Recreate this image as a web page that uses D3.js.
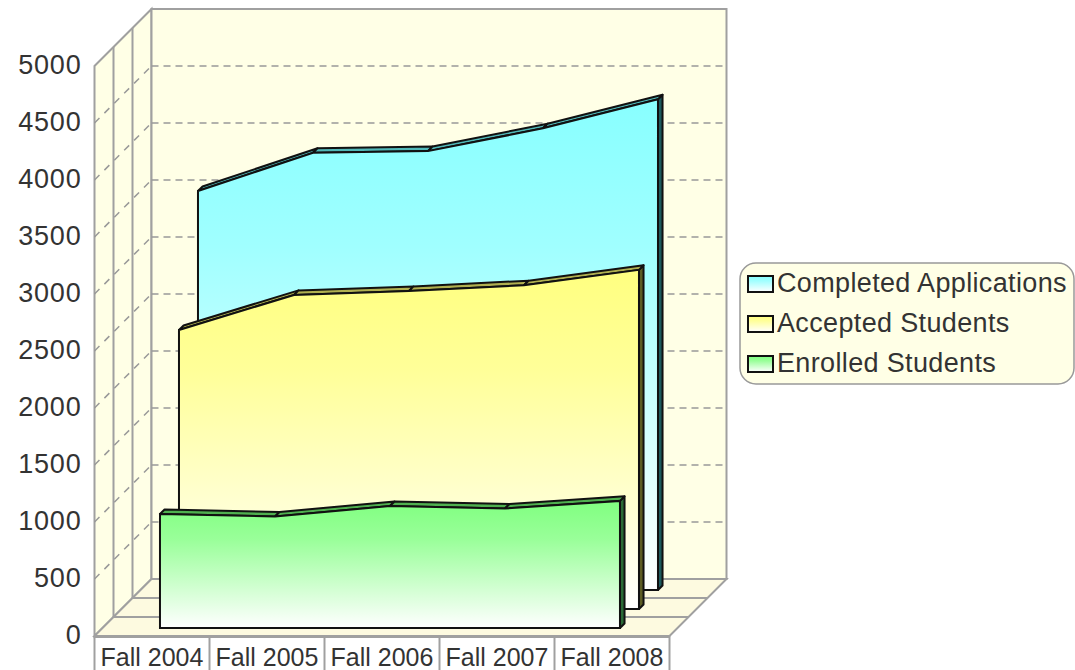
<!DOCTYPE html>
<html>
<head>
<meta charset="utf-8">
<script src="https://cdn.jsdelivr.net/npm/d3@7"></script>
<style>
	body { margin: 0; background: #fff; }
	text { font-family: "Liberation Sans", Arial, sans-serif; fill: #333; }
</style>
</head>
<body>
<script>
	var categories = ["Fall 2004", "Fall 2005", "Fall 2006", "Fall 2007", "Fall 2008"];
	var seriesNames = ["Enrolled Students", "Accepted Students", "Completed Applications"];
	var enrolled = [1000, 978, 1070, 1048, 1115];
	var accepted = [2447, 2755, 2790, 2840, 2975];
	var completed = [3500, 3835, 3850, 4050, 4305];
	var yTicks = [0, 500, 1000, 1500, 2000, 2500, 3000, 3500, 4000, 4500, 5000];

	var seriesValues = [enrolled, accepted, completed];
	var faceColors = ["#80ff80", "#ffff80", "#88ffff"];
	var topColors = ["#4fb04f", "#b0b050", "#50b8b8"];
	var sideColors = ["#2a6a36", "#5c5c24", "#1d5a5e"];

	var width = 1075, height = 670;
	// "top" is taken by window.top, so these carry a prefix
	var plotLeft = 94.5, plotRight = 669.5, plotBottom = 636, plotTop = 66;
	var depthX = 57, depthY = -57;

	var svg = d3.select("body").append("svg")
		.attr("width", width).attr("height", height)
		.style("display", "block");

	var y = d3.scaleLinear().domain([0, 5000]).range([plotBottom, plotTop]);
	var band = d3.scaleBand().domain(categories).range([plotLeft, plotRight]);
	var x = function(c) { return band(c) + band.bandwidth() / 2; };

	// depth runs 0 (front edge of the floor) to 1 (back wall)
	function px(xv, d) { return xv + depthX * d; }
	function py(yv, d) { return yv + depthY * d; }
	function poly(pts) { return d3.line()(pts) + "Z"; }

	var defs = svg.append("defs");
	faceColors.forEach(function(c, i) {
		var g = defs.append("linearGradient").attr("id", "grad" + i)
			.attr("x1", 0).attr("y1", 0).attr("x2", 0).attr("y2", 1);
		g.append("stop").attr("offset", "0%").attr("stop-color", c);
		g.append("stop").attr("offset", "30%").attr("stop-color", d3.interpolateRgb(c, "#ffffff")(0.2));
		g.append("stop").attr("offset", "100%").attr("stop-color", "#ffffff");
	});

	// walls and floor
	var wall = svg.append("g");
	wall.append("path")
		.attr("d", poly([[px(plotLeft, 0), y(5000)], [px(plotLeft, 1), py(y(5000), 1)], [px(plotLeft, 1), py(y(0), 1)], [px(plotLeft, 0), y(0)]]))
		.attr("fill", "#ffffe6").attr("stroke", "#a0a0a0").attr("stroke-width", 2);
	wall.append("path")
		.attr("d", poly([[px(plotLeft, 1), py(y(5000), 1)], [px(plotRight, 1), py(y(5000), 1)], [px(plotRight, 1), py(y(0), 1)], [px(plotLeft, 1), py(y(0), 1)]]))
		.attr("fill", "#ffffe6").attr("stroke", "#a0a0a0").attr("stroke-width", 2);
	wall.append("path")
		.attr("d", poly([[px(plotLeft, 0), y(0)], [px(plotRight, 0), y(0)], [px(plotRight, 1), py(y(0), 1)], [px(plotLeft, 1), py(y(0), 1)]]))
		.attr("fill", "#fdfae0").attr("stroke", "#a0a0a0").attr("stroke-width", 2);

	// slice dividers on the left wall and the floor
	[1 / 3, 2 / 3].forEach(function(d) {
		wall.append("path")
			.attr("d", d3.line()([[px(plotLeft, d), py(y(5000), d)], [px(plotLeft, d), py(y(0), d)], [px(plotRight, d), py(y(0), d)]]))
			.attr("fill", "none").attr("stroke", "#a0a0a0").attr("stroke-width", 2);
	});

	// grid lines, dashed
	var grid = yTicks.filter(function(t) { return t > 0 && t < 5000; });
	wall.selectAll("line.back").data(grid).join("line").attr("class", "back")
		.attr("x1", px(plotLeft, 1)).attr("x2", px(plotRight, 1))
		.attr("y1", function(d) { return py(y(d), 1); })
		.attr("y2", function(d) { return py(y(d), 1); })
		.attr("stroke", "#999").attr("stroke-width", 1.5).attr("stroke-dasharray", "7 5");
	wall.selectAll("line.side").data(grid).join("line").attr("class", "side")
		.attr("x1", px(plotLeft, 0)).attr("x2", px(plotLeft, 1))
		.attr("y1", function(d) { return y(d); })
		.attr("y2", function(d) { return py(y(d), 1); })
		.attr("stroke", "#999").attr("stroke-width", 1.5).attr("stroke-dasharray", "7 7");

	// series, back to front
	var thick = 0.08;
	var order = [2, 1, 0];
	order.forEach(function(s) {
		var d0 = (s + 0.42) / 3, d1 = d0 + thick;
		var vals = seriesValues[s];
		var g = svg.append("g");
		var last = categories[categories.length - 1];

		g.append("path")
			.attr("d", poly([[px(x(last), d0), py(y(vals[4]), d0)], [px(x(last), d1), py(y(vals[4]), d1)], [px(x(last), d1), py(y(0), d1)], [px(x(last), d0), py(y(0), d0)]]))
			.attr("fill", sideColors[s]).attr("stroke", "#111").attr("stroke-width", 2).attr("stroke-linejoin", "round");

		g.selectAll("path.top").data(d3.pairs(categories.map(function(c, i) { return [c, vals[i]]; }))).join("path")
			.attr("class", "top")
			.attr("d", function(p) {
				var a = p[0], b = p[1];
				return poly([[px(x(a[0]), d0), py(y(a[1]), d0)], [px(x(a[0]), d1), py(y(a[1]), d1)], [px(x(b[0]), d1), py(y(b[1]), d1)], [px(x(b[0]), d0), py(y(b[1]), d0)]]);
			})
			.attr("fill", topColors[s]).attr("stroke", "#111").attr("stroke-width", 2).attr("stroke-linejoin", "round");

		var area = d3.area()
			.x(function(c) { return px(x(c), d0); })
			.y0(py(y(0), d0))
			.y1(function(c, i) { return py(y(vals[i]), d0); });
		g.append("path").attr("d", area(categories))
			.attr("fill", "url(#grad" + s + ")").attr("stroke", "#111").attr("stroke-width", 2);
	});

	// y axis labels
	var axisY = d3.axisLeft(y).tickValues(yTicks).tickSize(0).tickPadding(13).tickFormat(d3.format("d"));
	var ay = svg.append("g").attr("transform", "translate(" + plotLeft + ",-1)").call(axisY);
	ay.select(".domain").remove();
	ay.attr("font-family", null).attr("font-size", null);
	ay.selectAll("text").attr("font-size", 27).attr("letter-spacing", 0.8);

	// category table under the floor
	var table = svg.append("g");
	table.append("line").attr("x1", plotLeft).attr("x2", plotRight).attr("y1", plotBottom + 1).attr("y2", plotBottom + 1)
		.attr("stroke", "#a0a0a0").attr("stroke-width", 2);
	table.selectAll("line.cell").data(categories.concat(["end"])).join("line").attr("class", "cell")
		.attr("x1", function(c, i) { return plotLeft + band.step() * i; })
		.attr("x2", function(c, i) { return plotLeft + band.step() * i; })
		.attr("y1", plotBottom).attr("y2", height)
		.attr("stroke", "#a0a0a0").attr("stroke-width", 2);
	table.selectAll("text").data(categories).join("text")
		.attr("x", x).attr("y", 666)
		.attr("text-anchor", "middle").attr("font-size", 25)
		.text(function(d) { return d; });

	// legend
	var legend = svg.append("g");
	legend.append("rect").attr("x", 740).attr("y", 263).attr("width", 334).attr("height", 121).attr("rx", 16)
		.attr("fill", "#ffffe6").attr("stroke", "#999").attr("stroke-width", 1.5);
	var rows = legend.selectAll("g").data(order).join("g")
		.attr("transform", function(d, i) { return "translate(748," + (284 + i * 40) + ")"; });
	rows.append("rect").attr("x", 0).attr("y", -8).attr("width", 25).attr("height", 16)
		.attr("fill", function(d) { return "url(#grad" + d + ")"; })
		.attr("stroke", "#111").attr("stroke-width", 2);
	rows.append("text").attr("x", 29).attr("y", 8).attr("font-size", 27)
		.attr("letter-spacing", 0.35)
		.text(function(d) { return seriesNames[d]; });
</script>
</body>
</html>
